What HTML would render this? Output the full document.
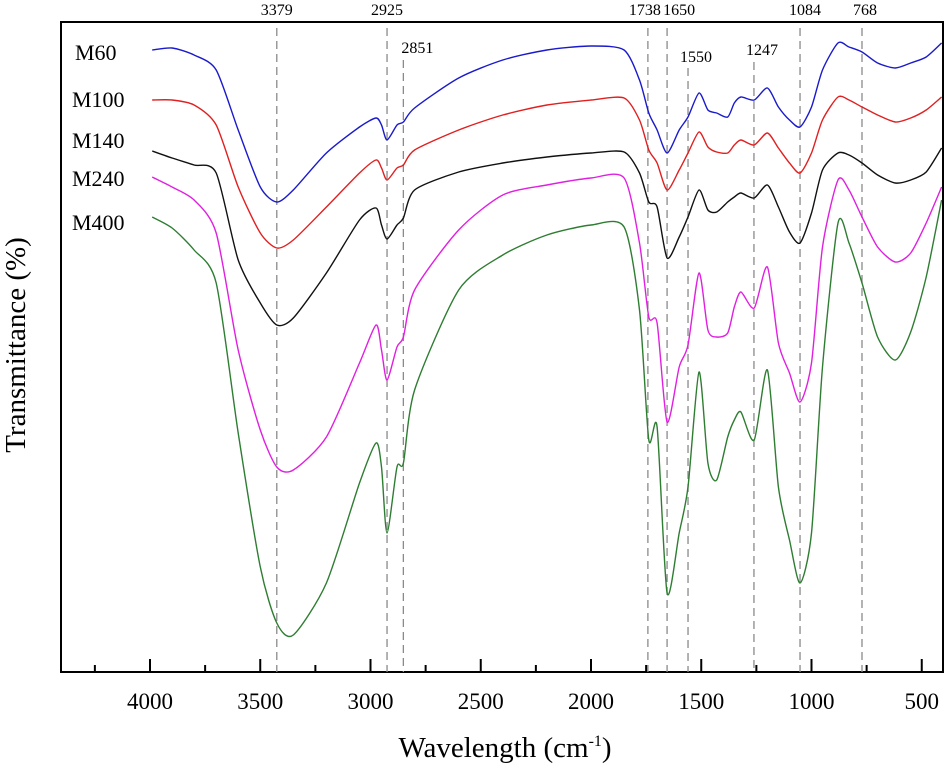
<!DOCTYPE html>
<html><head><meta charset="utf-8"><style>
html,body{margin:0;padding:0;background:#fff;}
svg{display:block;font-family:"Liberation Serif",serif;}
</style></head><body>
<svg id="chart" width="950" height="777" viewBox="0 0 950 777">
<rect x="61" y="22" width="882" height="650" fill="none" stroke="#000" stroke-width="2"/>
<g id="peaks"></g>
<g id="series"></g>
<g id="xaxis"></g>
<text x="505" y="757" font-size="29" text-anchor="middle">Wavelength (cm<tspan font-size="16" dy="-11">-1</tspan><tspan dy="11">)</tspan></text>
<text transform="translate(25,345) rotate(-90)" font-size="29" text-anchor="middle">Transmittance (%)</text>
<g font-size="22">
<text x="75" y="60">M60</text>
<text x="72" y="107">M100</text>
<text x="72" y="148">M140</text>
<text x="72" y="186">M240</text>
<text x="72" y="230">M400</text>
</g>
</svg>
<script>
const wavenumbers=[3990,3900,3800,3700,3600,3500,3425,3350,3200,3050,2975,2950,2925,2880,2851,2800,2600,2400,2200,2000,1850,1780,1738,1700,1655,1600,1560,1510,1470,1430,1380,1350,1320,1260,1200,1150,1100,1052,1000,950,880,830,771,700,620,550,480,410];
const m60=[650,652,645,630,570,513,498,510,547,573,582,575,560,575,578,592,622,640,650,654,650,620,587,570,547,570,583,607,590,587,583,597,603,600,612,593,580,573,593,630,657,653,648,637,632,637,643,657];
const m100=[600,600,595,575,513,467,452,460,493,527,540,532,520,532,535,550,570,585,595,600,602,580,550,537,510,530,547,568,553,548,547,555,560,555,567,552,537,527,547,580,603,600,593,585,578,582,590,603];
const m140=[549,542,535,527,440,397,375,382,427,480,492,475,461,475,482,510,528,537,543,547,548,527,498,493,442,463,483,510,490,488,498,503,507,502,515,493,468,457,487,530,547,545,537,525,517,520,528,552];
const m240=[523,513,500,467,350,270,233,230,263,337,375,350,320,353,363,410,470,505,515,522,522,457,383,377,278,333,355,427,370,363,367,393,408,392,433,357,327,298,337,453,520,510,483,453,438,447,477,513];
const m400=[483,472,450,417,267,133,77,65,117,217,257,233,167,233,237,310,410,445,465,475,473,390,260,273,107,167,213,328,237,220,263,280,288,260,330,213,160,117,167,333,477,457,417,363,340,368,423,500];
const seriesNames=["M60","M100","M140","M240","M400"];
const seriesColors=["#1a1acc","#e02020","#111111","#e020e0","#2e7d32"];
const peakLines=[3425,2925,2851,1742,1655,1560,1261,1052,771];
const peakLabels=["3379","2925","2851","1738","1650","1550","1247","1084","768"];
const majorTicks=[4000,3500,3000,2500,2000,1500,1000,500];
const minorTicks=[4250,3750,3250,2750,2250,1750,1250,750];

const NS="http://www.w3.org/2000/svg";
function x(v){return 150+(4000-v)*0.2205;}
function y(t){return 700-t;}
function mk(tag,attrs,parent){const e=document.createElementNS(NS,tag);for(const k in attrs)e.setAttribute(k,attrs[k]);parent.appendChild(e);return e;}

const peaksG=document.getElementById('peaks');
const labelPos=[[0,15],[0,15],[14,53],[-3,15],[12,15],[8,62],[8,55],[5,15],[3,15]];
const lineTop=[28,28,60,28,28,68,62,28,28];
peakLines.forEach((v,i)=>{
  const px=x(v);
  const l=mk('line',{x1:px,x2:px,y1:lineTop[i],y2:672,stroke:'#8a8a8a','stroke-width':1.3,'stroke-dasharray':'8,5'},peaksG);
  
  
  const t=mk('text',{x:px+labelPos[i][0],y:labelPos[i][1],'font-size':16,'text-anchor':'middle'},peaksG);
  t.textContent=peakLabels[i];
  
  
});

function path(vals){
  const pts=wavenumbers.map((w,i)=>[x(w),y(vals[i])]);
  let d='M'+pts[0][0].toFixed(1)+','+pts[0][1].toFixed(1);
  for(let i=0;i<pts.length-1;i++){
    const p0=pts[Math.max(0,i-1)],p1=pts[i],p2=pts[i+1],p3=pts[Math.min(pts.length-1,i+2)];
    const c1=[p1[0]+(p2[0]-p0[0])/8,p1[1]+(p2[1]-p0[1])/8];
    const c2=[p2[0]-(p3[0]-p1[0])/8,p2[1]-(p3[1]-p1[1])/8];
    d+=' C'+c1[0].toFixed(1)+','+c1[1].toFixed(1)+' '+c2[0].toFixed(1)+','+c2[1].toFixed(1)+' '+p2[0].toFixed(1)+','+p2[1].toFixed(1);
  }
  return d;
}
const sg=document.getElementById('series');
[m60,m100,m140,m240,m400].forEach((vals,i)=>{
  const p=mk('path',{d:path(vals),fill:'none',stroke:seriesColors[i],'stroke-width':1.4,'stroke-linejoin':'round'},sg);
  
  
});

const xa=document.getElementById('xaxis');
majorTicks.forEach(v=>{
  const l=mk('line',{x1:x(v),x2:x(v),y1:672,y2:659,stroke:'#000','stroke-width':2},xa);
  
  
  const t=mk('text',{x:x(v),y:709,'font-size':23,'text-anchor':'middle'},xa);
  t.textContent=v;
  
  
});
minorTicks.forEach(v=>{
  const l=mk('line',{x1:x(v),x2:x(v),y1:672,y2:665,stroke:'#000','stroke-width':2},xa);
  
  
});
</script>
</body></html>
